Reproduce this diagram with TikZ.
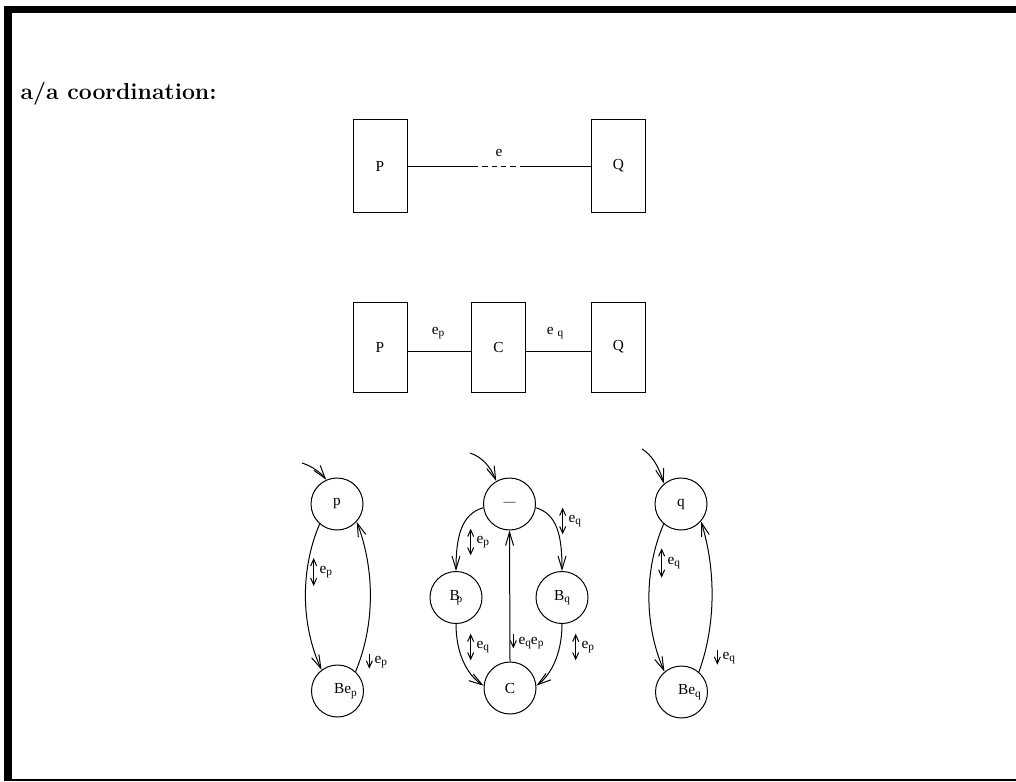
\documentclass[tikz,border=0pt]{standalone}
\usepackage{fontspec}
\newfontfamily\labfont{Liberation Serif}
\usetikzlibrary{arrows.meta}
% lowered small index, as in e_p
\newcommand\lo[1]{\raisebox{-0.35ex}{\fontsize{8.5}{9}\selectfont #1}}

\begin{document}
\begin{tikzpicture}[x=0.75pt,y=-0.75pt,
  font=\labfont\fontsize{11.5}{13}\selectfont,
  line width=0.75pt,
  box/.style={draw,minimum width=40.5pt,minimum height=69pt,inner sep=0pt},
  state/.style={draw,circle,minimum size=39pt,inner sep=0pt},
  arr/.style={-{Straight Barb[length=10pt,width=6pt]}},
  lbl/.style={anchor=west,inner sep=0pt},
  % small direction marks beside the transition labels
  both/.style={{Straight Barb[length=5pt,width=4.5pt]}-{Straight Barb[length=5pt,width=4.5pt]}},
  down/.style={-{Straight Barb[length=5pt,width=4.5pt]}}]
\useasboundingbox (0,0) rectangle (1016,781);

% frame
\fill (4,6) rectangle (1016,13);
\fill (4,6) rectangle (12,781);
\fill (4,779) rectangle (1016,781);

% title
\node[anchor=base west,inner sep=0pt,font=\normalfont\LARGE\bfseries] (title) at (20,100) {a/a coordination:};

% first row: P and Q joined by e
\node[box] (P1) at (380,166) {P};
\node[box] (Q1) at (618.5,166) {Q};
\coordinate (d1) at (473,166);
\coordinate (d2) at (522,166);
\draw (P1) -- (d1);
\draw[dash pattern=on 4pt off 3pt] (d1) -- (d2);
\draw (d2) -- (Q1);
\node (e1) at (499,153) {e};

% second row: P -- C -- Q
\node[box,minimum height=67.5pt] (P2) at (380,347) {P};
\node[box,minimum height=67.5pt] (C2) at (498.5,347) {C};
\node[box,minimum height=67.5pt] (Q2) at (618.5,347) {Q};
\draw ([yshift=-3pt]P2.east) -- ([yshift=-3pt]C2.west);
\draw ([yshift=-3pt]C2.east) -- ([yshift=-3pt]Q2.west);
\node (ep) at (438,333) {e\lo{p}};
\node (eq) at (555,333) {e\hspace{3pt}\lo{q}};

% automaton of P
\node[state] (p) at (337,504) {p};
\node[state] (bep) at (337.5,691) {\hspace*{12pt}Be\lo{p}};
\coordinate (ip) at (302,463);
\draw[arr] (ip) .. controls (312,466) and (321,473) .. (p.114);
\draw[arr] (p.229) .. controls (300,570) and (301,625) .. (bep.127);
\draw[arr] (bep.47) .. controls (375,625) and (375,570) .. (p.318);
\node[lbl] (l1) at (319,572) {e\lo{p}};
\draw[both] ([shift={(-4pt,10.5pt)}]l1.west) -- ([shift={(-4pt,-10.5pt)}]l1.west);
\node[lbl] (l2) at (374,662) {e\lo{p}};
\draw[down] ([shift={(-3.5pt,6pt)}]l2.west) -- ([shift={(-3.5pt,-5pt)}]l2.west);

% automaton of C
\node[state] (tm) at (509.5,504) {\fontsize{9}{9}\selectfont —};
\node[state] (bp) at (456,597.5) {B\kern-2.5pt\lo{p}};
\node[state] (bq) at (562,597.5) {B\lo{q}};
\node[state] (c) at (510,688) {C};
\coordinate (itm) at (470,453);
\draw[arr] (itm) .. controls (482,457) and (490,466) .. (tm.120);
\draw[arr] (tm.188) .. controls (462,514) and (456,535) .. (bp.north);
\draw[arr] (tm.352) .. controls (557,514) and (562,535) .. (bq.north);
\draw[arr] (bp.south) .. controls (456,652) and (466,674) .. (c.175);
\draw[arr] (bq.south) .. controls (562,652) and (552,674) .. (c.5);
\draw[arr] (c.north) -- (tm.south);
\node[lbl] (m1) at (476,542) {e\lo{p}};
\draw[both] ([shift={(-4pt,10pt)}]m1.west) -- ([shift={(-4pt,-10pt)}]m1.west);
\node[lbl] (m2) at (568,521) {e\lo{q}};
\draw[both] ([shift={(-4pt,10pt)}]m2.west) -- ([shift={(-4pt,-10pt)}]m2.west);
\node[lbl] (m3) at (476,647) {e\lo{q}};
\draw[both] ([shift={(-4pt,10pt)}]m3.west) -- ([shift={(-4pt,-10pt)}]m3.west);
\node[lbl] (m4) at (581,647) {e\lo{p}};
\draw[both] ([shift={(-4pt,10pt)}]m4.west) -- ([shift={(-4pt,-10pt)}]m4.west);
\node[lbl] (m5) at (518,643) {e\lo{q}e\lo{p}};
\draw[down] ([shift={(-3.5pt,7pt)}]m5.west) -- ([shift={(-3.5pt,-4pt)}]m5.west);

% automaton of Q
\node[state] (q) at (681,504) {q};
\node[state] (beq) at (681.5,692) {\hspace*{12pt}Be\lo{q}};
\coordinate (iq) at (642,449);
\draw[arr] (iq) .. controls (652,455) and (659,467) .. (q.130);
\draw[arr] (q.229) .. controls (644,570) and (644,625) .. (beq.130);
\draw[arr] (beq.49) .. controls (716,625) and (716,570) .. (q.319);
\node[lbl] (r1) at (667,563) {e\lo{q}};
\draw[both] ([shift={(-4pt,11pt)}]r1.west) -- ([shift={(-4pt,-11pt)}]r1.west);
\node[lbl] (r2) at (722,658) {e\lo{q}};
\draw[down] ([shift={(-3.5pt,6pt)}]r2.west) -- ([shift={(-3.5pt,-5pt)}]r2.west);
\end{tikzpicture}
\end{document}
